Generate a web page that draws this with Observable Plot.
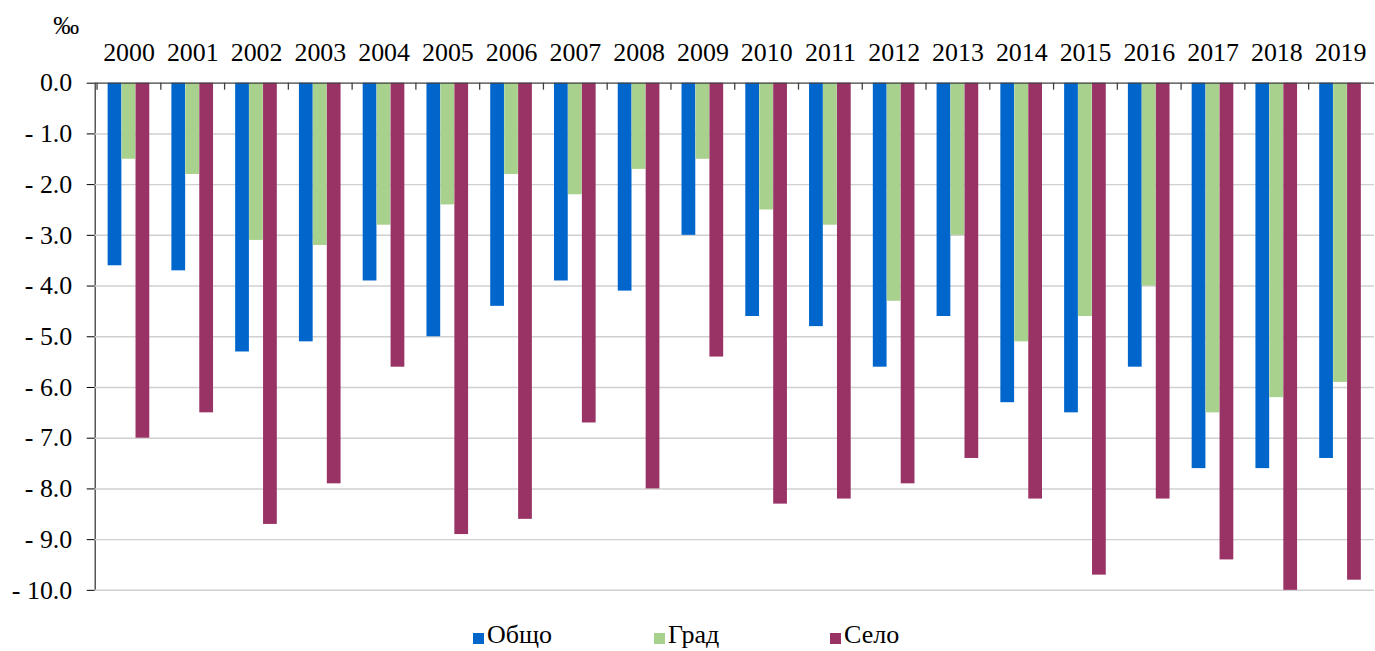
<!DOCTYPE html>
<html>
<head>
<meta charset="utf-8">
<script src="https://cdn.jsdelivr.net/npm/d3@7"></script>
<script src="https://cdn.jsdelivr.net/npm/@observablehq/plot@0.6"></script>
<style>
  html, body { margin: 0; padding: 0; background: #fff; overflow: hidden; width: 1375px; height: 651px;
    font-family: 'Liberation Serif', serif; }
  #chart { position: absolute; left: 0; top: 0; }
  #chart svg, #chart svg text { font-family: 'Liberation Serif', serif !important; }
  #legend { position: absolute; left: 0; top: 622px; width: 1375px; height: 29px;
    font-family: 'Liberation Serif', serif; font-size: 26px; line-height: 26px; color: #000; }
  .item { position: absolute; top: 0; white-space: nowrap; }
  .sw { display: inline-block; width: 11px; height: 11px; margin-right: 3px; vertical-align: -1px; }
</style>
</head>
<body>
<div id="chart"></div>
<div id="legend"></div>
<script>
const years = ["2000","2001","2002","2003","2004","2005","2006","2007","2008","2009",
               "2010","2011","2012","2013","2014","2015","2016","2017","2018","2019"];
const seriesNames = ["Общо", "Град", "Село"];
const seriesColors = ["#0066CC", "#A9D18E", "#993366"];
const obshto = [-3.6, -3.7, -5.3, -5.1, -3.9, -5.0, -4.4, -3.9, -4.1, -3.0,
                -4.6, -4.8, -5.6, -4.6, -6.3, -6.5, -5.6, -7.6, -7.6, -7.4];
const grad   = [-1.5, -1.8, -3.1, -3.2, -2.8, -2.4, -1.8, -2.2, -1.7, -1.5,
                -2.5, -2.8, -4.3, -3.0, -5.1, -4.6, -4.0, -6.5, -6.2, -5.9];
const selo   = [-7.0, -6.5, -8.7, -7.9, -5.6, -8.9, -8.6, -6.7, -8.0, -5.4,
                -8.3, -8.2, -7.9, -7.4, -8.2, -9.7, -8.2, -9.4, -10.0, -9.8];
const yTicks = [0, -1, -2, -3, -4, -5, -6, -7, -8, -9, -10];
const unitLabel = "‰";

const seriesValues = [obshto, grad, selo];

// layout
const width = 1380, height = 600;
const marginLeft = 95, marginRight = 1, marginTop = 83, marginBottom = 8;
const plotW = width - marginLeft - marginRight;
const plotH = height - marginTop - marginBottom;
const bw = plotW / years.length;
const barFrac = 14 / 64.2;      // width of each bar as share of a year band
const groupOffFrac = 11 / 64.2; // left gap before first bar

const marks = [
  Plot.ruleY(yTicks.filter(d => d !== 0), {y: d => d, stroke: "#d0d0d0", strokeWidth: 1.5})
];
seriesValues.forEach((vals, i) => {
  const rows = years.map((yr, j) => ({year: yr, value: vals[j]}));
  const left = bw * (groupOffFrac + i * barFrac);
  const right = bw - left - bw * barFrac;
  marks.push(Plot.barY(rows, {x: "year", y: "value", fill: seriesColors[i],
    insetLeft: left, insetRight: right}));
});
marks.push(Plot.ruleY([0], {stroke: "#404040", strokeWidth: 1.3}));
marks.push(Plot.ruleX(years, {x: d => d, dx: -bw / 2, insetBottom: plotH - 7, stroke: "#404040", strokeWidth: 1.3}));
marks.push(Plot.text([unitLabel], {frameAnchor: "top-left", text: d => d, dx: -29, dy: -58,
  textAnchor: "middle", lineAnchor: "middle", fontSize: 26}));

const chart = Plot.plot({
  width, height, marginLeft, marginRight, marginTop, marginBottom,
  style: {fontFamily: "Liberation Serif", fontSize: "26px", color: "#000", background: "#fff", overflow: "visible"},
  x: {type: "band", domain: years, padding: 0, axis: "top", tickSize: 0, tickPadding: 22, label: null},
  y: {domain: [-10, 0], ticks: yTicks, tickSize: 8, tickPadding: 15, line: true, label: null,
      tickFormat: d => d === 0 ? "0.0" : "- " + Math.abs(d).toFixed(1)},
  marks
});
document.getElementById("chart").appendChild(chart);

const legend = document.getElementById("legend");
const lefts = [473, 654, 830];
seriesNames.forEach((name, i) => {
  const it = document.createElement("div");
  it.className = "item";
  it.style.left = lefts[i] + "px";
  it.innerHTML = `<span class="sw" style="background:${seriesColors[i]}"></span>${name}`;
  legend.appendChild(it);
});
</script>
</body>
</html>
